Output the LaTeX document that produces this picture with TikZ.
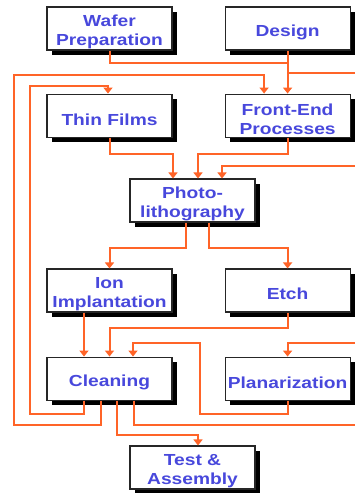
\documentclass[tikz,border=0pt]{standalone}
\usepackage{fontspec}
\usepackage{xcolor}
\usepackage{tikz}
\usetikzlibrary{arrows.meta,positioning,shadows}
\newfontfamily\boxfont[FakeStretch=1.2]{Liberation Sans}
\definecolor{txtblue}{RGB}{72,72,220}
\definecolor{flow}{RGB}{255,100,40}

\begin{document}
\begin{tikzpicture}[
  x=1pt, y=-1pt,
  font=\boxfont\fontsize{16}{19}\selectfont\bfseries,
  box/.style={draw=black!85, line width=1.1pt, fill=white, text=txtblue, align=center,
    inner xsep=2pt, inner ysep=0pt, minimum width=125pt, minimum height=43pt,
    execute at begin node={\rule{0pt}{#1}},
    drop shadow={shadow xshift=5pt, shadow yshift=-5pt, fill=black, opacity=1}},
  box/.default=19pt,
  arr/.style={-{Triangle[width=9pt,length=6pt]}, draw=flow, line width=2pt}
]
  \useasboundingbox (0,0) rectangle (355,493);
  \clip (0,0) rectangle (355,493);

  % boxes
  \node[box=38pt] (wafer) at (109.5,28.5) {Wafer\\Preparation};
  \node[box, right=52pt of wafer] (design) {Design};
  \node[box, below=43pt of wafer] (thin) {Thin Films};
  \node[box=38pt, right=52pt of thin] (front) {Front-End\\Processes};
  \node[box=38pt] (photo) at (192.5,200.5) {Photo-\\lithography};
  \node[box=38pt] (ion) at (109.5,290.5) {Ion\\Implantation};
  \node[box, right=52pt of ion] (etch) {Etch};
  \node[box, below=44pt of ion] (clean) {Cleaning};
  \node[box, right=52pt of clean] (plan) {Planarization};
  \node[box=38pt] (test) at (192.5,467.5) {Test \&\\Assembly};

  % flow
  \draw[arr] (wafer.south) -- ++(0,12) -| (front.north);
  \draw[arr] (design.south) -- ++(0,22) -| ++(70,0) |- ++(-100,93) -| ([xshift=29.5pt]photo.north);
  \draw[arr] ([xshift=-8.5pt]clean.south) -- ++(0,24) -| ++(-87,-350) -| ([xshift=-23.5pt]front.north);
  \draw[arr] ([xshift=-25.5pt]clean.south) -- ++(0,13) -| ++(-54,-328) -| ([xshift=-1.5pt]thin.north);
  \draw[arr] (thin.south) -- ++(0,16) -| ([xshift=-19.5pt]photo.north);
  \draw[arr] (front.south) -- ++(0,16) -| ([xshift=5.5pt]photo.north);
  \draw[arr] ([xshift=-6.5pt]photo.south) -- ++(0,25) -| (ion.north);
  \draw[arr] ([xshift=16.5pt]photo.south) -- ++(0,25) -| (etch.north);
  \draw[arr] ([xshift=-25.5pt]ion.south) -- ([xshift=-25.5pt]clean.north);
  \draw[arr] (etch.south) -- ++(0,15) -| (clean.north);
  \draw[arr] (plan.south) -- ++(0,13) -| ++(-88,-71) -| ([xshift=23.5pt]clean.north);
  \draw[arr] ([xshift=24.5pt]clean.south) -- ++(0,24) -| ++(236,-82) -| (plan.north);
  \draw[arr] ([xshift=7.5pt]clean.south) -- ++(0,34) -| ([xshift=5.5pt]test.north);
\end{tikzpicture}
\end{document}
